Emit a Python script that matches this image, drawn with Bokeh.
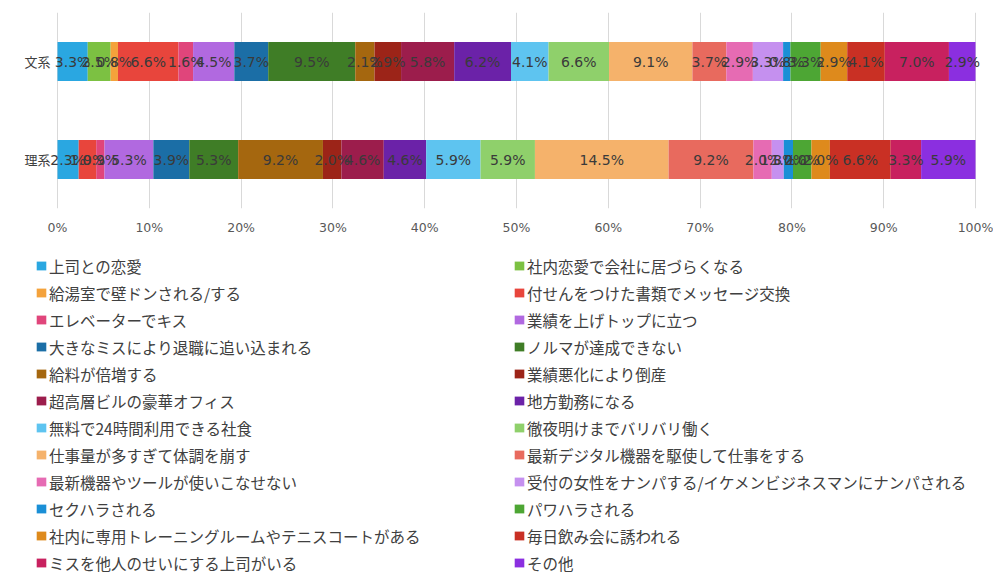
from bokeh.plotting import figure
from bokeh.layouts import column
from bokeh.models import FactorRange, Range1d, FixedTicker, Legend, LegendItem, ColumnDataSource
from bokeh.core.properties import value
from bokeh.embed import file_html
from bokeh.resources import INLINE

categories = ["文系", "理系"]

series_names = [
    "上司との恋愛",
    "社内恋愛で会社に居づらくなる",
    "給湯室で壁ドンされる/する",
    "付せんをつけた書類でメッセージ交換",
    "エレベーターでキス",
    "業績を上げトップに立つ",
    "大きなミスにより退職に追い込まれる",
    "ノルマが達成できない",
    "給料が倍増する",
    "業績悪化により倒産",
    "超高層ビルの豪華オフィス",
    "地方勤務になる",
    "無料で24時間利用できる社食",
    "徹夜明けまでバリバリ働く",
    "仕事量が多すぎて体調を崩す",
    "最新デジタル機器を駆使して仕事をする",
    "最新機器やツールが使いこなせない",
    "受付の女性をナンパする/イケメンビジネスマンにナンパされる",
    "セクハラされる",
    "パワハラされる",
    "社内に専用トレーニングルームやテニスコートがある",
    "毎日飲み会に誘われる",
    "ミスを他人のせいにする上司がいる",
    "その他",
]

bunkei = [3.3, 2.5, 0.8, 6.6, 1.6, 4.5, 3.7, 9.5, 2.1, 2.9, 5.8, 6.2,
          4.1, 6.6, 9.1, 3.7, 2.9, 3.3, 0.8, 3.3, 2.9, 4.1, 7.0, 2.9]
rikei = [2.3, 0.0, 0.0, 1.9, 0.9, 5.3, 3.9, 5.3, 9.2, 2.0, 4.6, 4.6,
         5.9, 5.9, 14.5, 9.2, 2.0, 1.3, 1.0, 2.0, 2.0, 6.6, 3.3, 5.9]

colors = [
    "#2aa7e1", "#7cc142", "#f4a23b", "#e8453c", "#e0457b", "#b169e0",
    "#1b6ea6", "#3f7d26", "#a5670f", "#9c2418", "#9c1d4c", "#6b22a8",
    "#5ec4f0", "#8fd06b", "#f5b26b", "#e86a5e", "#e66bb3", "#c590ef",
    "#1a8fd6", "#4da634", "#de8a1c", "#c93024", "#c8215f", "#8b2fe0",
]

tick_values = [0.0, 0.1, 0.2, 0.3, 0.4, 0.5, 0.6, 0.7, 0.8, 0.9, 1.0]
tick_labels = ["0%", "10%", "20%", "30%", "40%", "50%", "60%", "70%", "80%", "90%", "100%"]

rows = {"文系": bunkei, "理系": rikei}

# layout constants (pixels)
W = 993
PLOT_LEFT, PLOT_RIGHT = 57, 18
px_unit = 1.0 / (W - PLOT_LEFT - PLOT_RIGHT)

# normalised (100% stacked) data
keys = [f"s{i}" for i in range(len(series_names))]
data = {"cat": categories}
for i, k in enumerate(keys):
    data[k] = [rows[c][i] / sum(rows[c]) for c in categories]
src = ColumnDataSource(data)

p = figure(width=W, height=245,
           y_range=FactorRange(factors=["理系", "文系"], range_padding=0),
           x_range=Range1d(-PLOT_LEFT * px_unit, 1 + PLOT_RIGHT * px_unit),
           y_axis_type=None,
           output_backend="svg", toolbar_location=None,
           min_border_left=0, min_border_right=0,
           min_border_top=12, min_border_bottom=37)
p.outline_line_color = None

renderers = p.hbar_stack(keys, y="cat", height=0.4, color=colors,
                         line_color=None, source=src)

# category labels (left of the 0% line)
p.text(x=[-7 * px_unit] * len(categories), y=categories, text=categories,
       text_align="right", text_baseline="middle",
       text_font=value("Noto Sans CJK JP"), text_font_size="13px",
       text_color="#404040")

# value labels
lx, ly, lt = [], [], []
for c in categories:
    vals = rows[c]
    tot = sum(vals)
    acc = 0.0
    for v in vals:
        if v > 0:
            lx.append((acc + v / 2) / tot)
            ly.append(c)
            lt.append(f"{v:.1f}%")
        acc += v
lsrc = ColumnDataSource(dict(x=lx, y=ly, t=lt))
p.text(x="x", y="y", text="t", source=lsrc, text_align="center",
       text_baseline="middle", text_font=value("DejaVu Sans"),
       text_font_size="14px", text_color="#3a3a3a")

ticker = FixedTicker(ticks=tick_values)
p.xaxis.ticker = ticker
p.xaxis.major_label_overrides = {t: l for t, l in zip(tick_values, tick_labels)}
p.xaxis.axis_line_color = None
p.xaxis.major_tick_line_color = None
p.xaxis.minor_tick_line_color = None
p.xaxis.major_label_standoff = 5
p.xaxis.major_label_text_font = "DejaVu Sans"
p.xaxis.major_label_text_font_size = "12.5px"
p.xaxis.major_label_text_color = "#595959"

p.xgrid.ticker = ticker
p.xgrid.grid_line_color = "#d9d9d9"

# legend panel
p2 = figure(width=W, height=327, x_range=Range1d(0, 1), y_range=Range1d(0, 1),
            x_axis_type=None, y_axis_type=None,
            output_backend="svg", toolbar_location=None,
            min_border_left=0, min_border_right=0,
            min_border_top=0, min_border_bottom=0)
p2.outline_line_color = None
items = []
for n, c in zip(series_names, colors):
    r = p2.hbar(y=[2.0], left=[2.0], right=[3.0], height=0.1,
                fill_color=c, line_color=None)
    items.append(LegendItem(label=n, renderers=[r]))

legend = Legend(items=items, ncols=2, orientation="horizontal",
                location=(35, -2),
                border_line_color=None, background_fill_alpha=0,
                padding=0, margin=0, spacing=4,
                glyph_width=12, glyph_height=11, label_standoff=2,
                label_width=460, label_height=23,
                label_text_font="Noto Sans CJK JP",
                label_text_font_size="15.5px",
                label_text_color="#404040")
p2.add_layout(legend)

open("out.html", "w").write(file_html(column(p, p2), INLINE))
